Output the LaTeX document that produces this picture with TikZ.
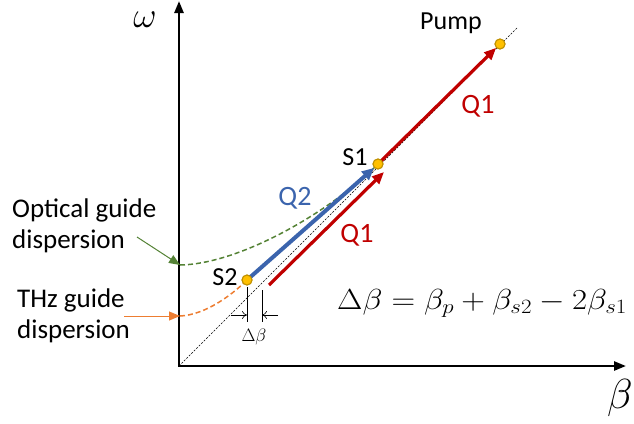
\RequirePackage{fix-cm}
\documentclass[tikz,border=0pt]{standalone}
\usepackage{fontspec}
\setmainfont{Carlito}
\usetikzlibrary{arrows.meta}
\definecolor{qred}{HTML}{C00000}
\definecolor{qblue}{HTML}{3B64AD}
\definecolor{ggreen}{HTML}{548235}
\definecolor{gorange}{HTML}{ED7D31}
\definecolor{dotfill}{HTML}{FFC000}
\definecolor{dotdraw}{HTML}{BF9000}
\begin{document}
\begin{tikzpicture}[x=1pt,y=-1pt,
  lbl/.style={font=\fontsize{26}{30}\selectfont, inner sep=0pt, anchor=base},
  lblw/.style={font=\fontsize{27}{30}\selectfont, inner sep=0pt, anchor=base west},
  qlbl/.style={font=\fontsize{28}{32}\selectfont, inner sep=0pt, anchor=base},
  dot/.style={circle, fill=dotfill, draw=dotdraw, line width=1pt, minimum size=10pt, inner sep=0pt},
  axisline/.style={line width=2.5pt, {Triangle[length=12pt,width=9pt]}-{Triangle[length=12pt,width=9pt]}},
  qarrow/.style={line width=3.2pt, -{Triangle[length=12pt,width=10pt]}},
  disp/.style={line width=1.5pt, dash pattern=on 5pt off 3pt},
  pointer/.style={line width=1pt, -{Triangle[length=11pt,width=9pt]}},
  tick/.style={line width=0.8pt},
  dimarrow/.style={line width=0.6pt, -{To[length=5pt,width=8pt]}}
]
\useasboundingbox (0,0) rectangle (634,423);
% coordinates
\coordinate (o) at (179,366);
\coordinate (ytip) at (179,1);
\coordinate (xtip) at (626,366);
\coordinate (dend) at (517,28);
% diagonal light line
\draw[black, line width=0.6pt, dash pattern=on 2pt off 1.5pt] (o) -- (dend);
% axes
\draw[axisline] (ytip) |- (xtip);
% points
\node[dot] (pump) at (500,44) {};
\node[dot] (s1) at (378,164) {};
\node[dot] (s2) at (247,280) {};
% dispersion curves
\coordinate (gstart) at (180,265);
\coordinate (ostart) at (180,316);
\draw[ggreen, disp] (gstart) .. controls (240,264) and (330,212) .. (s1.center);
\draw[gorange, disp] (ostart) .. controls (205,315) and (232,295) .. (s2.center) -- (374,169);
% lower Q1 arrow
\coordinate (qa) at (269,285);
\coordinate (qb) at (384,172);
\draw[qred, qarrow] (qa) -- (qb);
% Q2 arrow
\draw[qblue, line width=4pt, -{Triangle[length=12pt,width=11pt]}] (s2.center) -- (374,168);
% upper Q1 arrow
\draw[qred, qarrow] (s1.center) -- (pump.south west);
% redraw points on top
\node[dot] at (pump) {};
\node[dot] at (s1) {};
\node[dot] at (s2) {};
% labels
\node[lbl] (pumplbl) at (451,29) {Pump};
\node[lbl] (s1lbl) at (355,165) {S1};
\node[lbl] (s2lbl) at (225,285) {S2};
\node[qlbl, text=qblue] (q2lbl) at (295,205) {Q2};
\node[qlbl, text=qred] (q1low) at (357,242) {Q1};
\node[qlbl, text=qred] (q1up) at (478,113) {Q1};
% axis labels
\node[font=\fontsize{36}{38}\selectfont, inner sep=0pt] (wlbl) at (145,20) {$\omega$};
\node[font=\fontsize{42}{44}\selectfont, inner sep=0pt] (blbl) at (620,398) {$\beta$};
% equation
\node[font=\fontsize{29}{32}\selectfont, inner sep=0pt, anchor=base west] (eq) at (337,309) {\scalebox{1.13}[1]{$\Delta\beta=\beta_p+\beta_{s2}-2\beta_{s1}$}};
% side labels
\node[lblw] (opt1) at (12,217) {Optical guide};
\node[lblw] (opt2) at (12,248) {dispersion};
\node[lblw] (thz1) at (17,307) {THz guide};
\node[lblw] (thz2) at (17,338) {dispersion};
\coordinate (gp) at (137,237);
\coordinate (op) at (124,316);
\draw[ggreen, pointer] (gp) -- (gstart);
\draw[gorange, pointer] (op) -- (ostart);
% delta beta marker
\coordinate (t1a) at (247,287);
\coordinate (t1b) at (247,322);
\coordinate (t2a) at (262,290);
\coordinate (t2b) at (262,322);
\draw[tick] (t1a) -- (t1b);
\draw[tick] (t2a) -- (t2b);
\coordinate (la) at (231,315);
\coordinate (lb) at (247,315);
\coordinate (ra) at (278,315);
\coordinate (rb) at (262,315);
\draw[dimarrow] (la) -- (lb);
\draw[dimarrow] (ra) -- (rb);
\node[font=\fontsize{18}{20}\selectfont, inner sep=0pt] (dblbl) at (254,337) {$\Delta\beta$};
\end{tikzpicture}
\end{document}
